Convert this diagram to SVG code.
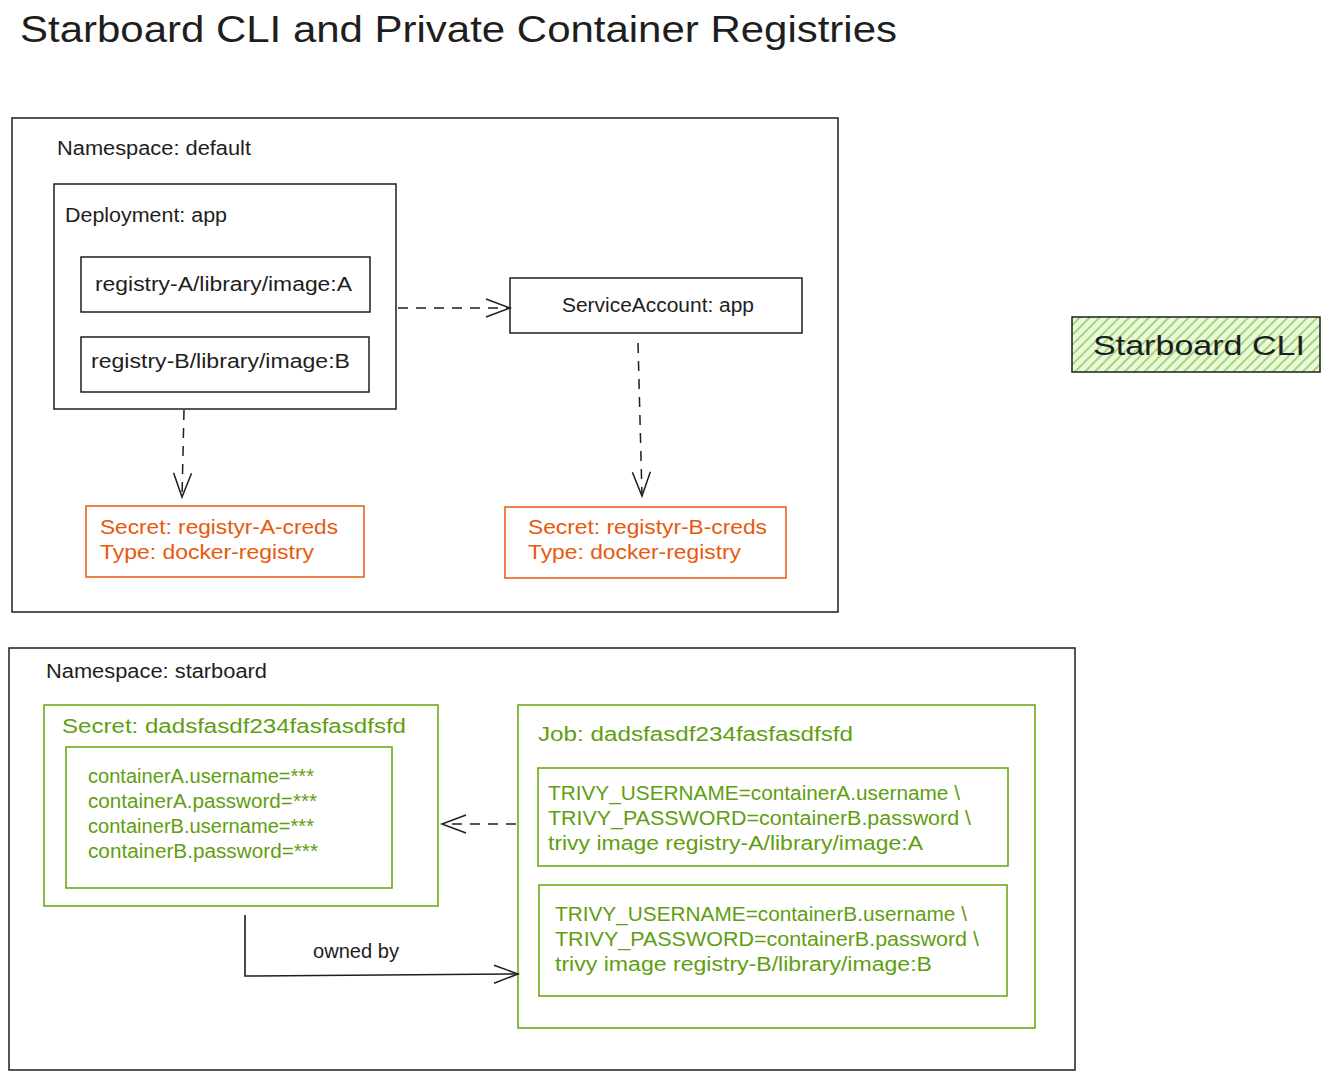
<svg xmlns="http://www.w3.org/2000/svg" width="1330" height="1080" viewBox="0 0 1330 1080">
<defs>
<style>
text{font-family:"Liberation Sans","DejaVu Sans",sans-serif;font-size:20px;fill:#1e1e1e}
.title{font-size:36px}
.cli{font-size:28px}
.org{fill:#e8590c}
.grn{fill:#5f9e0f}
.box{fill:none;stroke:#1e1e1e;stroke-width:1.5}
.obox{fill:none;stroke:#e8590c;stroke-width:1.5}
.gbox{fill:none;stroke:#6aab16;stroke-width:1.6}
.dash{fill:none;stroke:#1e1e1e;stroke-width:1.5;stroke-dasharray:10 8}
.solid{fill:none;stroke:#1e1e1e;stroke-width:1.6}
</style>
<marker id="arr" markerWidth="30" markerHeight="24" refX="26" refY="12" orient="auto" markerUnits="userSpaceOnUse">
<path d="M2,3 L26,12 L2,21" fill="none" stroke="#1e1e1e" stroke-width="1.5"/>
</marker>
<pattern id="hach" width="7" height="7" patternUnits="userSpaceOnUse" patternTransform="rotate(45)">
<rect width="7" height="7" fill="#eaf8dc"/>
<line x1="1" y1="0" x2="1" y2="7" stroke="#9bd46a" stroke-width="1.8"/>
</pattern>
</defs>

<text id="title" class="title" x="20" y="42" textLength="877" lengthAdjust="spacingAndGlyphs">Starboard CLI and Private Container Registries</text>

<g id="ns-default">
<rect class="box" x="12" y="118" width="826" height="494"/>
<text x="57" y="155" textLength="194" lengthAdjust="spacingAndGlyphs">Namespace: default</text>
</g>

<g id="deployment">
<rect class="box" x="54" y="184" width="342" height="225"/>
<text x="65" y="222" textLength="162" lengthAdjust="spacingAndGlyphs">Deployment: app</text>
</g>

<g id="image-a">
<rect class="box" x="81" y="257" width="289" height="55"/>
<text x="95" y="291" textLength="257" lengthAdjust="spacingAndGlyphs">registry-A/library/image:A</text>
</g>

<g id="image-b">
<rect class="box" x="81" y="337" width="288" height="55"/>
<text x="91" y="368" textLength="259" lengthAdjust="spacingAndGlyphs">registry-B/library/image:B</text>
</g>

<g id="service-account">
<rect class="box" x="510" y="278" width="292" height="55"/>
<text x="562" y="312" textLength="192" lengthAdjust="spacingAndGlyphs">ServiceAccount: app</text>
</g>

<g id="secret-a">
<rect class="obox" x="86" y="506" width="278" height="71"/>
<text class="org" x="100" y="534" textLength="238" lengthAdjust="spacingAndGlyphs">Secret: registyr-A-creds</text>
<text class="org" x="100" y="559" textLength="214" lengthAdjust="spacingAndGlyphs">Type: docker-registry</text>
</g>

<g id="secret-b">
<rect class="obox" x="505" y="507" width="281" height="71"/>
<text class="org" x="528" y="534" textLength="239" lengthAdjust="spacingAndGlyphs">Secret: registyr-B-creds</text>
<text class="org" x="528" y="559" textLength="213" lengthAdjust="spacingAndGlyphs">Type: docker-registry</text>
</g>

<g id="starboard-cli">
<rect x="1072" y="317" width="248" height="55" fill="url(#hach)" stroke="#1e1e1e" stroke-width="1.5"/>
<text class="cli" x="1093" y="355" textLength="212" lengthAdjust="spacingAndGlyphs">Starboard CLI</text>
</g>

<g id="ns-starboard">
<rect class="box" x="9" y="648" width="1066" height="422"/>
<text x="46" y="678" textLength="221" lengthAdjust="spacingAndGlyphs">Namespace: starboard</text>
</g>

<g id="secret-job">
<rect class="gbox" x="44" y="705" width="394" height="201"/>
<text class="grn" x="62" y="733" textLength="344" lengthAdjust="spacingAndGlyphs">Secret: dadsfasdf234fasfasdfsfd</text>
</g>

<g id="secret-data">
<rect class="gbox" x="66" y="747" width="326" height="141"/>
<text class="grn" x="88" y="783" textLength="226" lengthAdjust="spacingAndGlyphs">containerA.username=***</text>
<text class="grn" x="88" y="808" textLength="229" lengthAdjust="spacingAndGlyphs">containerA.password=***</text>
<text class="grn" x="88" y="833" textLength="226" lengthAdjust="spacingAndGlyphs">containerB.username=***</text>
<text class="grn" x="88" y="858" textLength="230" lengthAdjust="spacingAndGlyphs">containerB.password=***</text>
</g>

<g id="job">
<rect class="gbox" x="518" y="705" width="517" height="323"/>
<text class="grn" x="538" y="741" textLength="315" lengthAdjust="spacingAndGlyphs">Job: dadsfasdf234fasfasdfsfd</text>
</g>

<g id="container-a">
<rect class="gbox" x="538" y="768" width="470" height="98"/>
<text class="grn" x="548" y="800" textLength="412" lengthAdjust="spacingAndGlyphs">TRIVY_USERNAME=containerA.username \</text>
<text class="grn" x="548" y="825" textLength="423" lengthAdjust="spacingAndGlyphs">TRIVY_PASSWORD=containerB.password \</text>
<text class="grn" x="548" y="850" textLength="375" lengthAdjust="spacingAndGlyphs">trivy image registry-A/library/image:A</text>
</g>

<g id="container-b">
<rect class="gbox" x="539" y="885" width="468" height="111"/>
<text class="grn" x="555" y="921" textLength="412" lengthAdjust="spacingAndGlyphs">TRIVY_USERNAME=containerB.username \</text>
<text class="grn" x="555" y="946" textLength="424" lengthAdjust="spacingAndGlyphs">TRIVY_PASSWORD=containerB.password \</text>
<text class="grn" x="555" y="971" textLength="377" lengthAdjust="spacingAndGlyphs">trivy image registry-B/library/image:B</text>
</g>

<g id="connectors">
<path class="dash" d="M398,308 L510,308" marker-end="url(#arr)"/>
<path class="dash" d="M638,343 L642,496" marker-end="url(#arr)"/>
<path class="dash" d="M184,410 L182,497" marker-end="url(#arr)"/>
<path class="dash" d="M516,824 L442,824" marker-end="url(#arr)"/>
<path class="solid" d="M245,915 L245,976 L518,974" marker-end="url(#arr)"/>
<text x="313" y="958" textLength="86" lengthAdjust="spacingAndGlyphs">owned by</text>
</g>
</svg>
